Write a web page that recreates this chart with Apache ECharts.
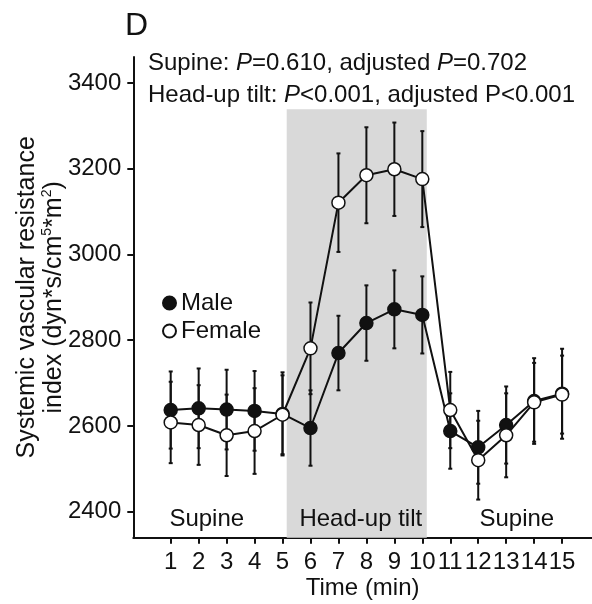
<!DOCTYPE html>
<html>
<head>
<meta charset="utf-8">
<script src="https://cdn.jsdelivr.net/npm/echarts@6/dist/echarts.min.js"></script>
<style>html,body{margin:0;padding:0;background:#fff}#c{width:592px;height:604px}</style>
</head>
<body>
<div id="c"></div>
<script>
const times = [1, 2, 3, 4, 5, 6, 7, 8, 9, 10, 11, 12, 13, 14, 15];
const maleMean = [2637, 2641, 2638, 2635, 2628, 2595, 2770, 2840, 2872, 2859, 2588, 2550, 2602, 2658, 2675];
const maleErr = [90, 93, 93, 93, 97, 88, 87, 88, 91, 90, 88, 85, 90, 100, 105];
const femaleMean = [2608, 2602, 2578, 2588, 2626, 2781, 3121, 3185, 3199, 3176, 2637, 2520, 2578, 2655, 2673];
const femaleErr = [95, 93, 95, 100, 92, 107, 115, 112, 109, 112, 89, 92, 98, 92, 91];
const yTicks = [2400, 2600, 2800, 3000, 3200, 3400];
const xTicks = [1, 2, 3, 4, 5, 6, 7, 8, 9, 10, 11, 12, 13, 14, 15];
const phaseNames = ['Supine', 'Head-up tilt', 'Supine'];

const FONT = 'Liberation Sans, Arial, sans-serif';
const INK = '#111';
const FS = 24;

function errData(mean, err) {
  return times.map((t, i) => [t, mean[i] - err[i], mean[i] + err[i]]);
}
function renderErr(params, api) {
  const x = api.value(0);
  const lo = api.coord([x, api.value(1)]);
  const hi = api.coord([x, api.value(2)]);
  const cw = 2;
  const st = { stroke: INK, lineWidth: 2 };
  return {
    type: 'group',
    children: [
      { type: 'line', shape: { x1: lo[0], y1: lo[1], x2: hi[0], y2: hi[1] }, style: st },
      { type: 'line', shape: { x1: lo[0] - cw, y1: lo[1], x2: lo[0] + cw, y2: lo[1] }, style: st },
      { type: 'line', shape: { x1: hi[0] - cw, y1: hi[1], x2: hi[0] + cw, y2: hi[1] }, style: st }
    ]
  };
}

const chart = echarts.init(document.getElementById('c'), null, { renderer: 'canvas' });
chart.setOption({
  animation: false,
  backgroundColor: '#fff',
  textStyle: { fontFamily: FONT, color: INK },
  title: [
    { text: 'D', left: 125, top: 10, padding: 0, textStyle: { fontSize: 32, fontWeight: 'normal', color: INK, fontFamily: FONT } },
    {
      text: '{n|Supine: }{i|P}{n|=0.610, adjusted }{i|P}{n|=0.702}',
      left: 148, top: 51, padding: 0,
      textStyle: {
        fontSize: FS, fontWeight: 'normal', color: INK, fontFamily: FONT,
        rich: {
          n: { fontSize: FS, color: INK, fontFamily: FONT },
          i: { fontSize: FS, color: INK, fontFamily: FONT, fontStyle: 'italic' }
        }
      }
    },
    {
      text: '{n|Head-up tilt: }{i|P}{n|<0.001, adjusted P<0.001}',
      left: 148, top: 83, padding: 0,
      textStyle: {
        fontSize: FS, fontWeight: 'normal', color: INK, fontFamily: FONT,
        rich: {
          n: { fontSize: FS, color: INK, fontFamily: FONT },
          i: { fontSize: FS, color: INK, fontFamily: FONT, fontStyle: 'italic' }
        }
      }
    }
  ],
  legend: {
    orient: 'vertical', left: 162, top: 291, padding: 0, itemWidth: 13, itemHeight: 13, itemGap: 4,
    selectedMode: false, icon: 'circle',
    textStyle: { fontSize: FS, color: INK, fontFamily: FONT, lineHeight: 24 },
    data: ['Male', 'Female']
  },
  grid: { left: 133.3, top: 57, right: 0, bottom: 66.3, containLabel: false, outerBoundsMode: 'none' },
  xAxis: {
    type: 'value', min: -0.338, max: 16.07,
    name: 'Time (min)', nameLocation: 'middle', nameGap: 39, nameMoveOverlap: false,
    nameTextStyle: { fontSize: FS, color: INK, fontFamily: FONT },
    axisLine: { show: true, onZero: false, lineStyle: { color: INK, width: 2 } },
    axisTick: { show: true, length: 6, customValues: xTicks, lineStyle: { color: INK, width: 2 } },
    axisLabel: { customValues: xTicks, fontSize: FS, color: INK, fontFamily: FONT, margin: 13, formatter: v => String(v) },
    splitLine: { show: false }
  },
  yAxis: {
    type: 'value', min: 2339, max: 3461,
    name: '{a|Systemic vascular resistance}\n{a|index (dyn*s/cm}{s|5}{a|*m}{s|2}{a|)}',
    nameLocation: 'middle', nameGap: 66, nameRotate: 90, nameMoveOverlap: false,
    nameTextStyle: {
      fontSize: 25, color: INK, fontFamily: FONT, lineHeight: 27,
      rich: {
        a: { fontSize: 25, lineHeight: 27, color: INK, fontFamily: FONT },
        s: { fontSize: 14, lineHeight: 14, verticalAlign: 'top', color: INK, fontFamily: FONT }
      }
    },
    axisLine: { show: true, onZero: false, lineStyle: { color: INK, width: 2 } },
    axisTick: { show: true, length: 6, customValues: yTicks, lineStyle: { color: INK, width: 2 } },
    axisLabel: { customValues: yTicks, fontSize: FS, color: INK, fontFamily: FONT, margin: 12, formatter: v => String(v) },
    splitLine: { show: false }
  },
  series: [
    {
      type: 'line', name: 'shade', data: [], z: 0, silent: true,
      markArea: {
        silent: true,
        itemStyle: { color: '#d9d9d9' },
        data: [[{ coord: [5.15, 2339] }, { coord: [10.16, 3339] }]]
      }
    },
    {
      type: 'scatter', name: 'phase', z: 1, silent: true, symbolSize: 0,
      itemStyle: { opacity: 1, color: 'rgba(0,0,0,0)' },
      data: [[2.29, 2381, phaseNames[0]], [7.8, 2381, phaseNames[1]], [13.38, 2381, phaseNames[2]]],
      label: { show: true, position: 'inside', formatter: p => p.data[2], fontSize: FS, color: INK, fontFamily: FONT, opacity: 1 }
    },
    { type: 'custom', name: 'maleErr', z: 2, renderItem: renderErr, data: errData(maleMean, maleErr), encode: { x: 0, y: [1, 2] }, silent: true },
    { type: 'custom', name: 'femaleErr', z: 2, renderItem: renderErr, data: errData(femaleMean, femaleErr), encode: { x: 0, y: [1, 2] }, silent: true },
    {
      type: 'line', name: 'Male', z: 3,
      data: times.map((t, i) => [t, maleMean[i]]),
      symbol: 'circle', symbolSize: 13, showAllSymbol: true,
      lineStyle: { color: INK, width: 2 },
      itemStyle: { color: '#111', borderColor: INK, borderWidth: 1.5 }
    },
    {
      type: 'line', name: 'Female', z: 4,
      data: times.map((t, i) => [t, femaleMean[i]]),
      symbol: 'circle', symbolSize: 13, showAllSymbol: true,
      lineStyle: { color: INK, width: 2 },
      itemStyle: { color: '#fff', borderColor: INK, borderWidth: 1.5 }
    }
  ]
});
</script>
</body>
</html>
